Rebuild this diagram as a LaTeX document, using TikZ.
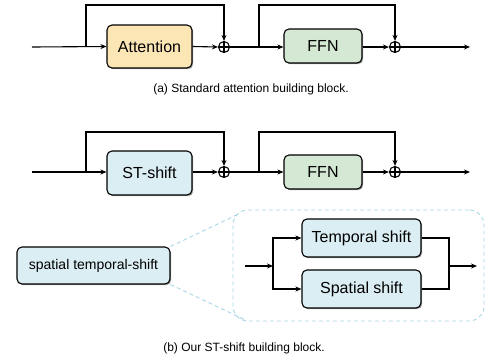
\documentclass[tikz,border=0pt]{standalone}
\usepackage{fontspec}
\setmainfont{Liberation Sans}
\usetikzlibrary{arrows.meta,shadows}
\definecolor{attfill}{HTML}{FDE6B6}
\definecolor{ffnfill}{HTML}{D5E8D4}
\definecolor{bluefill}{HTML}{DBEEF3}
\definecolor{dashblue}{HTML}{A8D6E6}
\tikzset{
  box/.style={draw=black, line width=1.1pt, rounded corners=5pt, inner sep=0pt,
    font=\fontsize{16}{18}\selectfont,
    drop shadow={shadow xshift=1.2pt, shadow yshift=-1.2pt, opacity=0.35, fill=black}},
  plus/.style={circle, draw=black, line width=1.1pt, minimum size=11pt, inner sep=0pt},
  arr/.style={line width=1.1pt, -{Stealth[length=6pt,width=5pt]}},
  ln/.style={line width=1.1pt},
  captext/.style={font=\fontsize{12}{14}\selectfont},
  zoomline/.style={draw=dashblue, line width=0.9pt, dash pattern=on 4pt off 3pt}
}
\begin{document}
\begin{tikzpicture}[x=1pt,y=-1pt]
\useasboundingbox (0,0) rectangle (485,360);
% ---------- row (a)
\coordinate (in1) at (32,47);
\coordinate (br1) at (86,47);
\coordinate (t1) at (86,5);
\coordinate (br2) at (259,47);
\coordinate (t2) at (259,5);
\coordinate (out1) at (470,47);
\node[box, fill=attfill, minimum width=85pt, minimum height=43pt] (att) at (149.5,46.5) {Attention};
\node[box, fill=ffnfill, minimum width=78pt, minimum height=34pt] (ffn1) at (323,46) {FFN};
\node[plus] (p1) at (224,47) {};
\node[plus] (p2) at (395,47) {};
\draw[ln] (p1.north) -- (p1.south) (p1.west) -- (p1.east);
\draw[ln] (p2.north) -- (p2.south) (p2.west) -- (p2.east);
\draw[arr] (in1) -- (att.west);
\draw[arr] (att.east) -- (p1.west);
\draw[arr] (p1.east) -- (ffn1.west |- p1.east);
\draw[arr] (ffn1.east |- p2.west) -- (p2.west);
\draw[arr] (p2.east) -- (out1);
\draw[arr] (br1) -- (t1) -| (p1.north);
\draw[arr] (br2) -- (t2) -| (p2.north);
\node[captext] (capa) at (251,89) {(a) Standard attention building block.};
% ---------- row (b)
\coordinate (in2) at (32,172);
\coordinate (br3) at (86,172);
\coordinate (t3) at (86,132);
\coordinate (br4) at (259,172);
\coordinate (t4) at (259,132);
\coordinate (out2) at (470,172);
\node[box, fill=bluefill, minimum width=85pt, minimum height=44pt] (st) at (149.5,173) {ST-shift};
\node[box, fill=ffnfill, minimum width=78pt, minimum height=34pt] (ffn2) at (323,172) {FFN};
\node[plus] (p3) at (224,172) {};
\node[plus] (p4) at (395,172) {};
\draw[ln] (p3.north) -- (p3.south) (p3.west) -- (p3.east);
\draw[ln] (p4.north) -- (p4.south) (p4.west) -- (p4.east);
\draw[arr] (in2) -- (st.west |- in2);
\draw[arr] (st.east |- p3.west) -- (p3.west);
\draw[arr] (p3.east) -- (ffn2.west |- p3.east);
\draw[arr] (ffn2.east |- p4.west) -- (p4.west);
\draw[arr] (p4.east) -- (out2);
\draw[arr] (br3) -- (t3) -| (p3.north);
\draw[arr] (br4) -- (t4) -| (p4.north);
% ---------- zoomed detail
\node[zoomline, rounded corners=15pt, minimum width=251pt, minimum height=111pt, inner sep=0pt] (zoom) at (358.5,265.5) {};
\node[box, fill=bluefill, minimum width=153pt, minimum height=37pt, font=\fontsize{14}{16}\selectfont] (sts) at (93.5,265.5) {spatial temporal-shift};
\coordinate (zt) at (237.5,214.5);
\coordinate (zb) at (246.5,320.5);
\draw[zoomline] (sts.north east) -- (zt);
\draw[zoomline] (sts.south east) -- (zb);
\node[box, fill=bluefill, minimum width=119pt, minimum height=38pt] (tem) at (361.5,238) {Temporal shift};
\node[box, fill=bluefill, minimum width=119pt, minimum height=38pt] (spa) at (361.5,289) {Spatial shift};
\coordinate (zin) at (245,266);
\coordinate (jin) at (273,266);
\coordinate (jout) at (449,266);
\coordinate (zout) at (477,266);
\draw[arr] (zin) -- (jin);
\draw[arr] (jin) |- (tem.west);
\draw[arr] (jin) |- (spa.west);
\draw[ln] (tem.east) -| (jout);
\draw[ln] (spa.east) -| (jout);
\draw[arr] (jout) -- (zout);
\node[captext] (capb) at (244,348) {(b) Our ST-shift building block.};
\end{tikzpicture}
\end{document}
